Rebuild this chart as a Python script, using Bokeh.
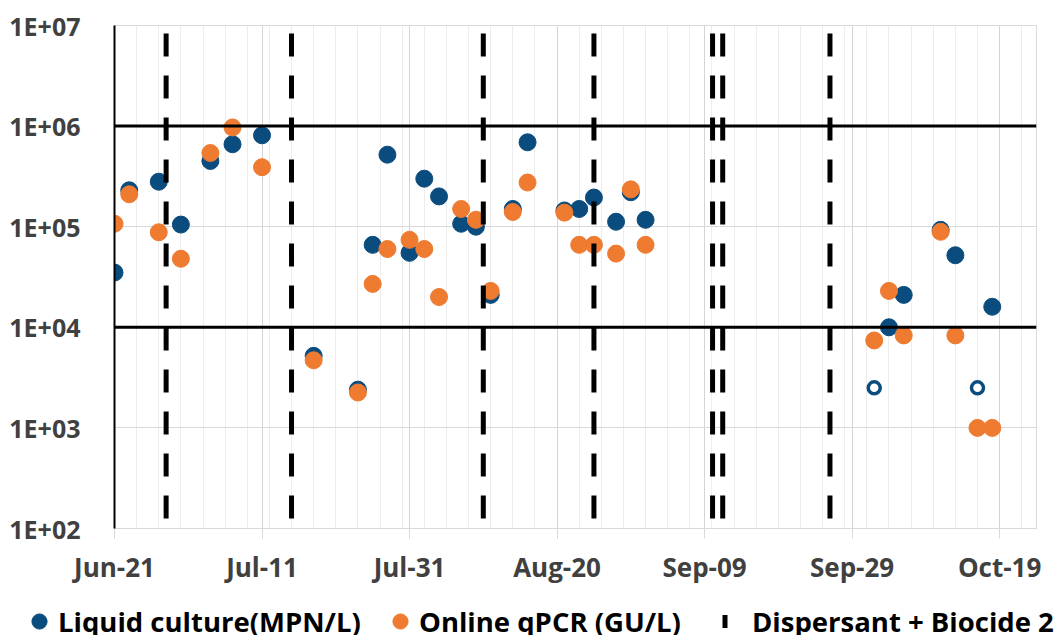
import pandas as pd
from bokeh.plotting import figure
from bokeh.models import (ColumnDataSource, FixedTicker, Span, Legend, LegendItem,
                          DatetimeTickFormatter, Range1d)
from bokeh.embed import file_html
from bokeh.resources import INLINE

# ---------------- data ----------------
culture_dates = ["2023-06-21", "2023-06-23", "2023-06-27", "2023-06-30", "2023-07-04",
                 "2023-07-07", "2023-07-11", "2023-07-18", "2023-07-24", "2023-07-26",
                 "2023-07-28", "2023-07-31", "2023-08-02", "2023-08-04", "2023-08-07",
                 "2023-08-09", "2023-08-11", "2023-08-14", "2023-08-16", "2023-08-21",
                 "2023-08-23", "2023-08-25", "2023-08-28", "2023-08-30", "2023-09-01",
                 "2023-10-04", "2023-10-06", "2023-10-11", "2023-10-13", "2023-10-18"]
culture_values = [3.5e4, 2.3e5, 2.8e5, 1.05e5, 4.5e5,
                  6.6e5, 8.1e5, 5.2e3, 2.4e3, 6.6e4,
                  5.2e5, 5.5e4, 3.0e5, 2.0e5, 1.07e5,
                  1.0e5, 2.1e4, 1.5e5, 6.9e5, 1.45e5,
                  1.5e5, 1.95e5, 1.12e5, 2.2e5, 1.17e5,
                  1.0e4, 2.1e4, 9.3e4, 5.2e4, 1.6e4]

culture_bdl_dates = ["2023-10-02", "2023-10-16"]
culture_bdl_values = [2.5e3, 2.5e3]

qpcr_dates = ["2023-06-21", "2023-06-23", "2023-06-27", "2023-06-30", "2023-07-04",
              "2023-07-07", "2023-07-11", "2023-07-18", "2023-07-24", "2023-07-26",
              "2023-07-28", "2023-07-31", "2023-08-02", "2023-08-04", "2023-08-07",
              "2023-08-09", "2023-08-11", "2023-08-14", "2023-08-16", "2023-08-21",
              "2023-08-23", "2023-08-25", "2023-08-28", "2023-08-30", "2023-09-01",
              "2023-10-02", "2023-10-04", "2023-10-06", "2023-10-11", "2023-10-13",
              "2023-10-16", "2023-10-18"]
qpcr_values = [1.07e5, 2.1e5, 8.8e4, 4.8e4, 5.4e5,
               9.7e5, 3.9e5, 4.7e3, 2.25e3, 2.7e4,
               6.0e4, 7.4e4, 6.0e4, 2.0e4, 1.5e5,
               1.17e5, 2.3e4, 1.4e5, 2.75e5, 1.38e5,
               6.6e4, 6.6e4, 5.4e4, 2.35e5, 6.6e4,
               7.4e3, 2.3e4, 8.3e3, 8.9e4, 8.3e3,
               1.0e3, 1.0e3]

dose_dates = ["2023-06-28 00:00", "2023-07-15 00:00", "2023-08-10 00:00",
              "2023-08-25 00:00", "2023-09-10 02:00", "2023-09-11 11:00",
              "2023-09-26 00:00"]

threshold_levels = [1e4, 1e6]

x_tick_dates = ["2023-06-21", "2023-07-11", "2023-07-31", "2023-08-20",
                "2023-09-09", "2023-09-29", "2023-10-19"]
x_start, x_end = "2023-06-21", "2023-10-24"
minor_step_days = 3

y_tick_values = [1e2, 1e3, 1e4, 1e5, 1e6, 1e7]
y_tick_labels = ["1E+02", "1E+03", "1E+04", "1E+05", "1E+06", "1E+07"]

series_labels = ["Liquid culture(MPN/L)", "Online qPCR (GU/L)", "Dispersant + Biocide 2"]

# ---------------- styling ----------------
BLUE = "#0B4C7E"
ORANGE = "#EE7B30"
FONT = "Open Sans"


def ms(d):
    return pd.Timestamp(d).value // 10**6


def to_dt(lst):
    return [pd.Timestamp(s) for s in lst]


src_c = ColumnDataSource(dict(x=to_dt(culture_dates), y=culture_values))
src_b = ColumnDataSource(dict(x=to_dt(culture_bdl_dates), y=culture_bdl_values))
src_q = ColumnDataSource(dict(x=to_dt(qpcr_dates), y=qpcr_values))
src_d = ColumnDataSource(dict(x=to_dt(dose_dates),
                              y=[y_tick_values[-1]] * len(dose_dates)))

p = figure(width=1056, height=595, x_axis_type="datetime", y_axis_type="log",
           x_range=Range1d(pd.Timestamp(x_start), pd.Timestamp(x_end)),
           y_range=Range1d(y_tick_values[0], y_tick_values[-1]),
           output_backend="svg", toolbar_location=None,
           min_border_left=114, min_border_right=20, min_border_top=25,
           min_border_bottom=67)
p.outline_line_color = "#d9d9d9"
p.background_fill_color = "white"
p.border_fill_color = "white"

# x axis
day_ms = 24 * 3600 * 1000
minor = list(range(ms(x_start), ms(x_end) + 1, minor_step_days * day_ms))
p.xaxis.ticker = FixedTicker(ticks=[ms(d) for d in x_tick_dates], minor_ticks=minor)
p.xaxis.formatter = DatetimeTickFormatter(days="%b-%d", months="%b-%d")
p.xaxis.axis_line_color = "#d9d9d9"
p.xaxis.major_tick_line_color = "#d9d9d9"
p.xaxis.major_tick_out = 10
p.xaxis.major_tick_in = 0
p.xaxis.minor_tick_line_color = None
p.xaxis.major_label_text_font = FONT
p.xaxis.major_label_text_font_style = "bold"
p.xaxis.major_label_text_font_size = "26px"
p.xaxis.major_label_text_color = "#404040"
p.xaxis.major_label_standoff = 10

# y axis
p.yaxis.ticker = FixedTicker(ticks=y_tick_values)
p.yaxis.major_label_overrides = dict(zip(y_tick_values, y_tick_labels))
p.yaxis.axis_line_color = "black"
p.yaxis.axis_line_width = 2
p.yaxis.major_tick_line_color = None
p.yaxis.minor_tick_line_color = None
p.yaxis.major_label_text_font = FONT
p.yaxis.major_label_text_font_style = "bold"
p.yaxis.major_label_text_font_size = "25px"
p.yaxis.major_label_text_color = "#404040"
p.yaxis.major_label_standoff = 28

# grids
p.xgrid.grid_line_color = "#d4d4d4"
p.xgrid.minor_grid_line_color = "#ededed"
p.ygrid.grid_line_color = "#d9d9d9"

# threshold lines
for lvl in threshold_levels:
    p.add_layout(Span(location=lvl, dimension="width", line_color="black", line_width=3))

# data
p.scatter("x", "y", source=src_c, size=17, fill_color=BLUE, line_color=BLUE)
p.scatter("x", "y", source=src_b, size=12, fill_color="white", line_color=BLUE,
          line_width=3.5)
p.scatter("x", "y", source=src_q, size=17, fill_color=ORANGE, line_color=ORANGE)

# dosing lines
for d in to_dt(dose_dates):
    p.add_layout(Span(location=d, dimension="height", line_color="black",
                      line_width=5, line_dash="23 19", line_dash_offset=34))

# ---------------- legend strip (separate root, full-width frame) ----------------
leg = figure(width=1056, height=40, output_backend="svg", toolbar_location=None,
             x_range=Range1d(0, 1), y_range=Range1d(0, 1),
             x_axis_location=None, y_axis_location=None,
             min_border_left=0, min_border_right=0, min_border_top=0, min_border_bottom=0)
leg.outline_line_color = None
leg.xgrid.visible = False
leg.ygrid.visible = False
leg.background_fill_color = "white"
leg.border_fill_color = "white"
# key renderers use the real data; it lies outside this strip's ranges, so only keys show
k_c = leg.scatter("x", "y", source=src_c, fill_color=BLUE, line_color=BLUE)
k_q = leg.scatter("x", "y", source=src_q, fill_color=ORANGE, line_color=ORANGE)
k_d = leg.line("x", "y", source=src_d, line_color="black", line_width=13,
               line_dash="5 33", line_dash_offset=16)


def add_legend(label, renderer, vx, standoff):
    lg = Legend(items=[LegendItem(label=label, renderers=[renderer])],
                location=(vx, -5), orientation="horizontal",
                glyph_width=38, glyph_height=38, label_standoff=standoff,
                label_height=38, padding=0, margin=0, spacing=0,
                border_line_color=None, background_fill_alpha=0,
                label_text_font=FONT, label_text_font_style="bold",
                label_text_font_size="27.5px", label_text_color="black")
    leg.add_layout(lg, "center")


add_legend(series_labels[0], k_c, 20, -5)
add_legend(series_labels[1], k_q, 381, -1)
add_legend(series_labels[2], k_d, 700, 14)

open("out.html", "w").write(file_html([p, leg], INLINE))
